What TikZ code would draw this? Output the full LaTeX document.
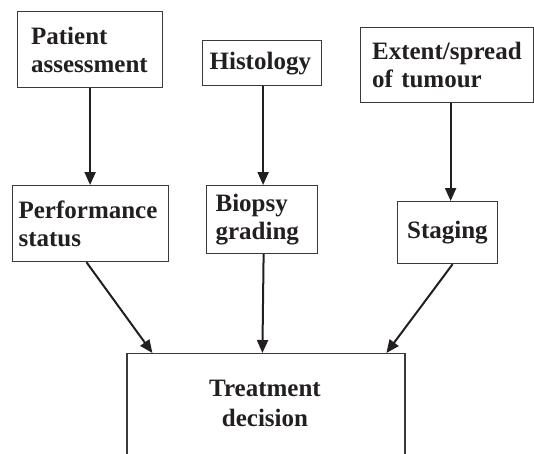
\documentclass[tikz,border=0pt]{standalone}
\usepackage{fontspec}
\setmainfont{Liberation Serif}
\usetikzlibrary{arrows.meta,calc}
\definecolor{ink}{HTML}{231F20}
\definecolor{frame}{HTML}{3A3A3A}
\begin{document}
\begin{tikzpicture}[x=1pt,y=-1pt,
  box/.style={draw=frame, line width=1.2pt, text=ink, anchor=north west,
    align=left, inner ysep=0pt, font=\fontsize{25}{28}\selectfont\bfseries},
  txt/.style={text=ink, align=center, inner sep=0pt, font=\fontsize{25}{30}\selectfont\bfseries},
  conn/.style={draw=ink, line width=2pt, -{Triangle[length=13pt,width=11pt]}}]
\useasboundingbox (0,0) rectangle (534,453);
\clip (0,0) rectangle (534,453);
% top row
\node[box, inner xsep=13.5pt, text width=118pt, minimum height=76pt] (pa) at (17,11) {Patient\\assessment};
\node[box, inner xsep=7pt, text width=105pt, minimum height=45pt] (hi) at (202,40) {Histology};
\node[box, inner xsep=11.5pt, text width=150pt, minimum height=75pt] (ex) at (360,27) {Extent/spread\\of tumour};
% middle row
\node[box, inner xsep=6.3pt, text width=143.7pt, minimum height=76pt] (ps) at (11.7,185) {Performance\\status};
\node[box, inner xsep=9pt, text width=93pt, minimum height=68pt] (bg) at (206,185) {Biopsy\\grading};
\node[box, inner xsep=9.5pt, text width=81pt, minimum height=62pt] (st) at (397,201) {Staging};
% bottom box (open at the bottom edge of the picture)
\node[draw=frame, line width=1.2pt, minimum width=278pt, minimum height=160pt, anchor=north, inner sep=0pt] (tdbox) at (266,353) {};
\node[txt] (td) at (265,403) {Treatment\\decision};
\coordinate (tdl) at ($(tdbox.north west)+(26,0)$);
\coordinate (tdm) at ($(tdbox.north west)+(136,0)$);
\coordinate (tdr) at ($(tdbox.north west)+(260,0)$);
% connectors
\draw[conn] (pa.south) -- (pa.south |- ps.north);
\draw[conn] ([xshift=1pt]hi.south) -- ([xshift=1pt]hi.south |- bg.north);
\draw[conn] ([xshift=3.5pt]ex.south) -- ([xshift=3.5pt]ex.south |- st.north);
\draw[conn] ([xshift=-4pt]ps.south) -- (tdl);
\draw[conn] ([xshift=1.5pt]bg.south) -- (tdm);
\draw[conn] ([xshift=5pt]st.south) -- (tdr);
\end{tikzpicture}
\end{document}
